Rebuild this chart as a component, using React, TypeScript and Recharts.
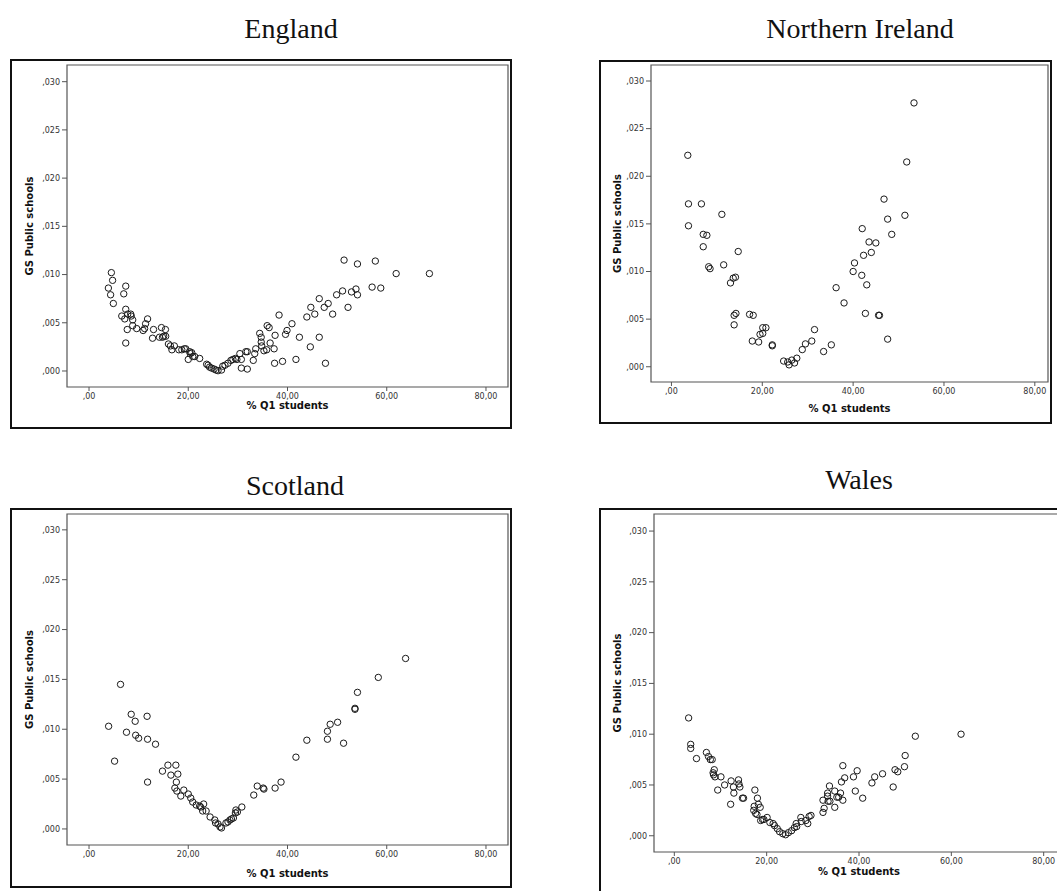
import React from 'react';
import { ScatterChart, Scatter, XAxis, YAxis, ReferenceArea } from 'recharts';

// values: % Q1 students (x) vs GS Public schools (y)
const englandX = [
  4.5, 4.75, 3.9, 4.35, 4.9, 7.0, 7.4, 6.6, 7.2, 7.4, 7.8, 8.4, 8.5, 7.7, 7.4, 8.8, 8.8, 9.6, 10.9, 11.2,
  11.4, 11.8, 12.8, 13.0, 14.2, 14.6, 14.8, 15.05, 15.4, 15.45, 16.0, 16.4, 16.7, 17.2, 18.1, 18.7, 19.2, 19.5, 20.0, 20.3,
  20.4, 20.7, 20.9, 21.3, 22.3, 23.7, 24.0, 24.3, 24.7, 25.2, 25.6, 26.0, 26.7, 26.95, 27.4, 28.0, 28.6, 29.0, 29.5, 29.8,
  30.4, 30.7, 30.7, 31.6, 31.9, 31.9, 33.1, 33.4, 33.6, 34.4, 34.7, 34.7, 34.8, 35.25, 35.8, 35.9, 36.3, 36.5, 37.3, 37.4,
  37.5, 38.3, 39.0, 39.6, 39.9, 40.9, 41.7, 42.4, 43.9, 44.6, 44.7, 45.5, 46.4, 46.4, 47.4, 47.65, 48.2, 49.1, 49.9, 51.1,
  51.4, 52.2, 52.9, 53.8, 54.1, 54.1, 57.05, 57.7, 58.8, 61.9, 68.6,
];
const englandY = [
  0.0102, 0.0094, 0.0086, 0.0079, 0.007, 0.008, 0.0088, 0.0057, 0.0054, 0.0064, 0.0059, 0.0059, 0.0057, 0.0043, 0.0029, 0.0053, 0.0047, 0.0044, 0.0042, 0.0044,
  0.0049, 0.0054, 0.0034, 0.0043, 0.0035, 0.0045, 0.0035, 0.0036, 0.0043, 0.0036, 0.0028, 0.0026, 0.0022, 0.0026, 0.0022, 0.0022, 0.0023, 0.0023, 0.0012, 0.002,
  0.0018, 0.0019, 0.0015, 0.0015, 0.0013, 0.0007, 0.0006, 0.0004, 0.0003, 0.0002, 0.0001, 0.00003, 0.0001, 0.0005, 0.0006, 0.0008, 0.0011, 0.0012, 0.0013, 0.0012,
  0.0018, 0.0012, 0.0003, 0.002, 0.0002, 0.002, 0.0011, 0.0018, 0.0023, 0.0039, 0.0035, 0.003, 0.0026, 0.0021, 0.0022, 0.0047, 0.0045, 0.0029, 0.0023, 0.0008,
  0.0037, 0.0058, 0.001, 0.0038, 0.0042, 0.0049, 0.0012, 0.0035, 0.0056, 0.0025, 0.0066, 0.0059, 0.0035, 0.0075, 0.0066, 0.0008, 0.007, 0.0059, 0.0079, 0.0083,
  0.0115, 0.0066, 0.0082, 0.0085, 0.0079, 0.0111, 0.0087, 0.0114, 0.0086, 0.0101, 0.0101,
];

const irelandX = [
  3.6, 3.75, 3.75, 6.6, 7.0, 7.8, 7.0, 8.2, 8.5, 11.1, 11.5, 13.0, 13.6, 14.1, 14.7, 13.8, 14.2, 13.8, 17.2, 18.0,
  17.8, 19.2, 19.5, 20.1, 20.1, 20.8, 22.2, 22.2, 24.7, 25.9, 25.6, 26.5, 27.1, 27.6, 28.8, 29.5, 30.9, 31.5, 33.5, 35.2,
  36.25, 38.0, 40.0, 40.3, 42.0, 41.9, 42.3, 43.0, 42.7, 43.5, 44.0, 45.0, 45.6, 45.8, 46.8, 47.6, 47.6, 48.5, 51.4, 51.8,
  53.4,
];
const irelandY = [
  0.0222, 0.0171, 0.0148, 0.0171, 0.0139, 0.0138, 0.0126, 0.0105, 0.0103, 0.016, 0.0107, 0.0088, 0.0093, 0.0094, 0.0121, 0.0054, 0.0056, 0.0044, 0.0055, 0.0054,
  0.0027, 0.0026, 0.0034, 0.0041, 0.0035, 0.0041, 0.0023, 0.0022, 0.0006, 0.0002, 0.0005, 0.0007, 0.0004, 0.0009, 0.0018, 0.0024, 0.0027, 0.0039, 0.0016, 0.0023,
  0.0083, 0.0067, 0.01, 0.0109, 0.0145, 0.0096, 0.0117, 0.0086, 0.0056, 0.0131, 0.012, 0.013, 0.0054, 0.0054, 0.0176, 0.0155, 0.0029, 0.0139, 0.0159, 0.0215,
  0.0277,
];

const scotlandX = [
  3.95, 5.15, 6.35, 7.55, 8.5, 9.3, 9.4, 10.0, 11.7, 11.8, 11.8, 13.4, 14.8, 15.9, 16.5, 17.5, 17.9, 17.6, 17.3, 17.7,
  18.5, 19.1, 20.0, 20.5, 20.9, 21.6, 22.3, 22.5, 23.1, 22.9, 23.6, 24.4, 25.35, 25.5, 26.0, 26.4, 26.7, 27.6, 28.0, 28.4,
  28.7, 29.1, 29.5, 29.6, 29.9, 30.8, 33.2, 33.9, 35.1, 35.25, 37.5, 38.7, 41.7, 43.9, 48.05, 48.05, 48.6, 50.1, 51.3, 53.6,
  53.6, 54.1, 58.3, 63.8,
];
const scotlandY = [
  0.0103, 0.0068, 0.0145, 0.0097, 0.0115, 0.0108, 0.0094, 0.0091, 0.0113, 0.009, 0.0047, 0.0085, 0.0058, 0.0064, 0.0054, 0.0064, 0.0055, 0.0047, 0.0041, 0.0038,
  0.0033, 0.0039, 0.0035, 0.0031, 0.0027, 0.0024, 0.0023, 0.0022, 0.0025, 0.0018, 0.0018, 0.0012, 0.0009, 0.0006, 0.0005, 0.0002, 0.0001, 0.0006, 0.0007, 0.0009,
  0.001, 0.0011, 0.0016, 0.0019, 0.0017, 0.0022, 0.0034, 0.0043, 0.0041, 0.004, 0.0041, 0.0047, 0.0072, 0.0089, 0.009, 0.0098, 0.0105, 0.0107, 0.0086, 0.0121,
  0.012, 0.0137, 0.0152, 0.0171,
];

const walesX = [
  3.1, 3.55, 3.55, 4.8, 6.95, 7.4, 7.8, 8.2, 8.65, 8.4, 8.5, 8.8, 9.4, 10.1, 10.9, 12.2, 12.3, 12.8, 12.9, 13.9,
  14.0, 14.2, 14.75, 15.0, 17.45, 18.0, 17.3, 18.2, 18.6, 17.2, 17.6, 17.9, 18.7, 19.1, 19.4, 20.1, 20.7, 21.4, 21.7, 22.3,
  22.8, 23.5, 24.1, 24.7, 25.4, 26.0, 26.4, 26.5, 27.4, 27.5, 28.5, 28.9, 29.2, 29.6, 32.2, 32.45, 32.2, 33.2, 33.2, 33.6,
  33.3, 33.7, 34.75, 34.75, 35.2, 35.6, 36.0, 36.2, 36.5, 36.5, 36.9, 38.8, 39.2, 39.6, 40.8, 42.8, 43.4, 45.1, 47.4, 47.8,
  48.4, 49.85, 50.0, 52.2, 62.1,
];
const walesY = [
  0.0116, 0.009, 0.0086, 0.0076, 0.0082, 0.0078, 0.0075, 0.0075, 0.0065, 0.0062, 0.006, 0.0058, 0.0045, 0.0058, 0.005, 0.0031, 0.0054, 0.0048, 0.0042, 0.0055,
  0.0051, 0.0048, 0.0037, 0.0037, 0.0045, 0.0037, 0.0029, 0.0031, 0.0028, 0.0025, 0.0022, 0.0021, 0.0015, 0.0016, 0.0016, 0.0018, 0.0013, 0.0012, 0.001, 0.0007,
  0.0004, 0.0002, 0.0001, 0.0003, 0.0005, 0.0008, 0.0012, 0.0009, 0.0018, 0.0014, 0.0015, 0.0012, 0.0019, 0.002, 0.0023, 0.0027, 0.0035, 0.0039, 0.0042, 0.0049,
  0.0034, 0.0034, 0.0044, 0.0028, 0.0038, 0.0038, 0.0042, 0.0053, 0.0069, 0.0035, 0.0057, 0.0058, 0.0044, 0.0064, 0.0037, 0.0052, 0.0058, 0.0061, 0.0048, 0.0065,
  0.0063, 0.0068, 0.0079, 0.0098, 0.01,
];

const xTicks = [0, 20, 40, 60, 80];
const yTicks = [0, 0.005, 0.01, 0.015, 0.02, 0.025, 0.03];

const toPoints = (xs: number[], ys: number[]) => xs.map((x, i) => ({ x, y: ys[i] }));

const fmtX = (v: number) => {
  const s = v.toFixed(2).replace('.', ',');
  return s.startsWith('0,') ? s.slice(1) : s;
};
const fmtY = (v: number) => v.toFixed(3).replace('0.', ',');

const SANS = 'DejaVu Sans';

const ring = (p: any) => (
  <circle cx={p.cx} cy={p.cy} r={3.2} fill="none" stroke="#1a1a1a" strokeWidth={1} />
);

type Rect = { l: number; t: number; r: number; b: number };

interface PanelProps {
  title: string;
  xs: number[];
  ys: number[];
  box: Rect;
  frame: Rect;
  xDomain: [number, number];
  yDomain: [number, number];
  titleX: number;
  titleBase: number;
  yLabelX: number;
  xLabelBase: number;
}

const Panel: React.FC<PanelProps> = ({ title, xs, ys, box, frame, xDomain, yDomain, titleX, titleBase, yLabelX, xLabelBase }) => {
  const w = box.r - box.l;
  const h = box.b - box.t;
  const yAxisW = frame.l - box.l - 2;
  const xAxisH = xLabelBase + 4 - frame.b;
  const margin = { top: frame.t - box.t, left: 2, right: box.r - frame.r, bottom: box.b - frame.b - xAxisH };

  return (
    <>
      <div
        style={{
          position: 'absolute', left: titleX - 150, top: titleBase - 23.5, width: 300, textAlign: 'center',
          fontFamily: 'Liberation Serif', fontSize: 28, lineHeight: '28px', color: '#111',
        }}
      >
        {title}
      </div>
      <div
        style={{
          position: 'absolute', left: box.l - 1, top: box.t - 1, width: w + 2, height: h + 2,
          border: '2px solid #111', boxSizing: 'border-box',
        }}
      />
      <div style={{ position: 'absolute', left: box.l, top: box.t }}>
        <ScatterChart width={w} height={h} margin={margin}>
          <ReferenceArea
            x1={xDomain[0]} x2={xDomain[1]} y1={yDomain[0]} y2={yDomain[1]}
            fill="none" stroke="#555" strokeWidth={1.2} ifOverflow="visible"
          />
          <XAxis
            type="number" dataKey="x" domain={xDomain} ticks={xTicks} allowDataOverflow interval={0}
            tickFormatter={fmtX} tickSize={4} tickMargin={2} axisLine={false}
            tickLine={{ stroke: '#555' }} tick={{ fontSize: 8, fill: '#333', fontFamily: SANS }}
            height={xAxisH}
            label={{
              value: '% Q1 students', position: 'insideBottom', offset: 4, fill: '#111',
              style: { fontWeight: 'bold', fontSize: 10, fontFamily: SANS, fill: '#111' },
            }}
          />
          <YAxis
            type="number" dataKey="y" domain={yDomain} ticks={yTicks} allowDataOverflow interval={0}
            tickFormatter={fmtY} tickSize={5} tickMargin={2} axisLine={false} width={yAxisW}
            tickLine={{ stroke: '#555' }} tick={{ fontSize: 8, fill: '#333', fontFamily: SANS }}
            label={{
              value: 'GS Public schools', angle: -90, position: 'insideLeft', offset: yLabelX - box.l - 2, fill: '#111',
              style: { textAnchor: 'middle', fontWeight: 'bold', fontSize: 10, fontFamily: SANS, fill: '#111' },
            }}
          />
          <Scatter data={toPoints(xs, ys)} shape={ring} isAnimationActive={false} />
        </ScatterChart>
      </div>
    </>
  );
};

export default function App() {
  return (
    <div style={{ position: 'absolute', left: 0, top: 0, width: 1057, height: 891, overflow: 'hidden', background: '#fff' }}>
      <Panel
        title="England" xs={englandX} ys={englandY}
        box={{ l: 11, t: 60, r: 511, b: 428 }} frame={{ l: 67, t: 65, r: 508, b: 387 }}
        xDomain={[-4.44, 84.44]} yDomain={[-0.00166, 0.03173]}
        titleX={291} titleBase={38} yLabelX={29} xLabelBase={409}
      />
      <Panel
        title="Northern Ireland" xs={irelandX} ys={irelandY}
        box={{ l: 600, t: 61, r: 1051, b: 423 }} frame={{ l: 651, t: 65, r: 1048, b: 382 }}
        xDomain={[-4.5, 82.9]} yDomain={[-0.0016, 0.03168]}
        titleX={860} titleBase={38} yLabelX={617} xLabelBase={412}
      />
      <Panel
        title="Scotland" xs={scotlandX} ys={scotlandY}
        box={{ l: 11, t: 509, r: 511, b: 887 }} frame={{ l: 67, t: 514, r: 508, b: 845 }}
        xDomain={[-4.44, 84.44]} yDomain={[-0.00161, 0.03159]}
        titleX={295} titleBase={495} yLabelX={29} xLabelBase={877}
      />
      <Panel
        title="Wales" xs={walesX} ys={walesY}
        box={{ l: 600, t: 509, r: 1070, b: 905 }} frame={{ l: 654, t: 514, r: 1064, b: 852 }}
        xDomain={[-4.4, 84.4]} yDomain={[-0.0016, 0.03168]}
        titleX={859} titleBase={489} yLabelX={617} xLabelBase={875}
      />
    </div>
  );
}
